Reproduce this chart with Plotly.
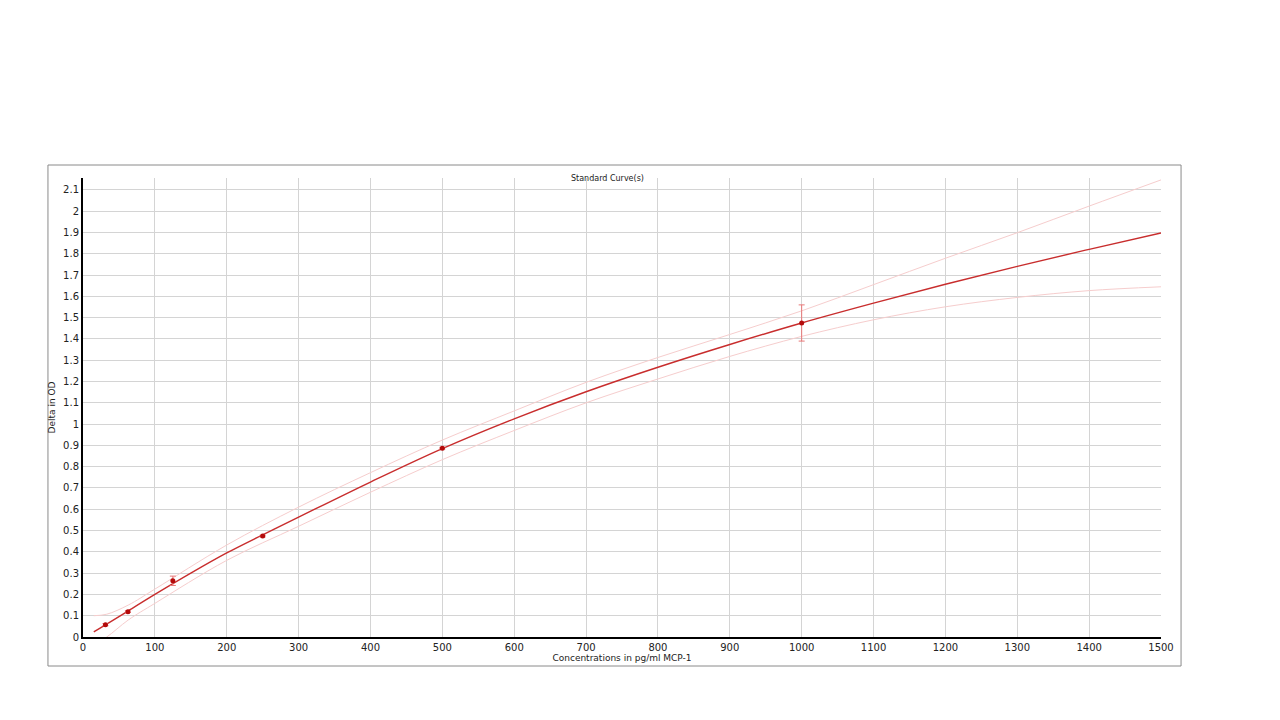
import plotly.graph_objects as go

# standards (pg/ml) and mean delta OD with SD
std_conc = [31.25, 62.5, 125, 250, 500, 1000]
std_od = [0.058, 0.119, 0.264, 0.474, 0.887, 1.475]
std_sd = [0.005, 0.004, 0.022, 0.004, 0.004, 0.085]

# fitted curve
fit_x = [15, 31.25, 62.5, 100, 150, 200, 250, 300, 400, 500, 600, 700, 800, 900, 1000, 1100, 1200, 1300, 1400, 1500]
fit_y = [0.024, 0.057, 0.122, 0.200, 0.300, 0.395, 0.480, 0.563, 0.728, 0.885, 1.025, 1.152, 1.267, 1.374, 1.475, 1.568, 1.657, 1.741, 1.821, 1.898]

# confidence band, upper and lower
band_x = [15, 33, 63, 100, 200, 300, 400, 500, 600, 700, 800, 900, 1000, 1100, 1200, 1300, 1400, 1500]
upper_y = [0.100, 0.107, 0.150, 0.225, 0.432, 0.610, 0.772, 0.925, 1.062, 1.196, 1.313, 1.421, 1.532, 1.655, 1.779, 1.899, 2.024, 2.147]
lower_y = [-0.035, 0.0, 0.080, 0.158, 0.360, 0.520, 0.680, 0.833, 0.970, 1.100, 1.212, 1.318, 1.412, 1.490, 1.551, 1.595, 1.627, 1.645]

x_ticks = list(range(0, 1501, 100))
y_ticks = [round(i * 0.1, 1) for i in range(22)]
y_labels = [f"{v:g}" for v in y_ticks]

FONT = "DejaVu Sans"
BAND = "rgb(246,205,205)"

fig = go.Figure()
fig.add_trace(go.Scatter(x=band_x, y=upper_y, mode="lines", line_shape="spline",
                         line=dict(color=BAND, width=1), hoverinfo="skip"))
fig.add_trace(go.Scatter(x=band_x, y=lower_y, mode="lines", line_shape="spline",
                         line=dict(color=BAND, width=1), hoverinfo="skip"))
fig.add_trace(go.Scatter(x=fit_x, y=fit_y, mode="lines", line_shape="spline",
                         line=dict(color="rgb(200,45,45)", width=1.4)))
fig.add_trace(go.Scatter(
    x=std_conc, y=std_od, mode="markers",
    marker=dict(color="rgb(180,10,10)", size=5),
    error_y=dict(type="data", array=std_sd, color="rgb(232,120,120)", thickness=1, width=3),
))

# page body has an 8px margin, so margins are set 8px tighter on the top/left
fig.update_layout(
    width=1280, height=720,
    paper_bgcolor="white", plot_bgcolor="white",
    showlegend=False,
    margin=dict(l=75, r=127, t=170, b=91),
    font=dict(family=FONT, size=10, color="#222"),
    shapes=[dict(type="rect", xref="paper", yref="paper",
                 x0=-0.0325, x1=1.0186, y0=-0.0632, y1=1.0283,
                 line=dict(color="#8a8a8a", width=1), layer="below")],
    annotations=[dict(text="Standard Curve(s)", xref="paper", yref="paper",
                      x=0.487, y=1.013, showarrow=False, font=dict(size=8, color="#222"))],
)
fig.update_xaxes(
    range=[0, 1500], tickvals=x_ticks, ticks="",
    showgrid=True, gridcolor="#d4d4d4", gridwidth=1,
    showline=True, linecolor="black", linewidth=2, zeroline=False,
    title=dict(text="Concentrations in pg/ml MCP-1", standoff=2, font=dict(size=9)),
    tickfont=dict(size=10),
)
fig.update_yaxes(
    range=[0, 2.156], tickvals=y_ticks, ticktext=y_labels, ticks="",
    showgrid=True, gridcolor="#d4d4d4", gridwidth=1,
    showline=True, linecolor="black", linewidth=2, zeroline=False,
    title=dict(text="Delta in OD", standoff=6, font=dict(size=9)),
    tickfont=dict(size=10),
)

fig.write_html("out.html")
